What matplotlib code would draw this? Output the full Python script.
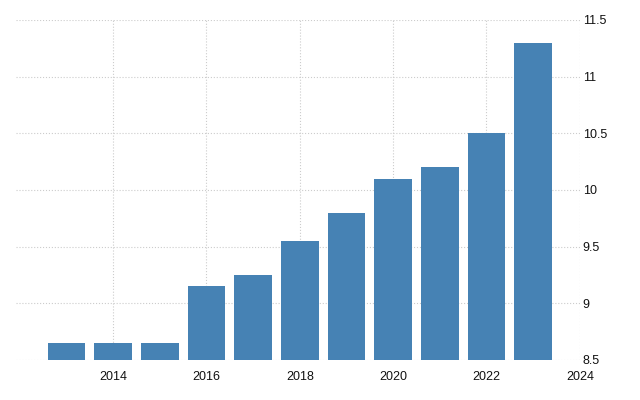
import matplotlib.pyplot as plt

years = [2013, 2014, 2015, 2016, 2017, 2018, 2019, 2020, 2021, 2022, 2023]
values = [8.65, 8.65, 8.65, 9.15, 9.25, 9.55, 9.8, 10.1, 10.2, 10.5, 11.3]
x_ticks = [2014, 2016, 2018, 2020, 2022, 2024]
y_ticks = [8.5, 9, 9.5, 10, 10.5, 11, 11.5]
y_labels = ['8.5', '9', '9.5', '10', '10.5', '11', '11.5']

plt.rcParams['font.family'] = ['Liberation Sans', 'DejaVu Sans']

fig = plt.figure(figsize=(6.4, 4.0), dpi=100)
ax = fig.add_axes([0.025, 0.1, 0.881, 0.85])
ax.bar(years, values, width=0.81, color='#4682b4', zorder=2)

ax.set_xlim(2011.92, 2024)
ax.set_ylim(8.5, 11.5)
ax.set_xticks(x_ticks)
ax.set_xticklabels([str(t) for t in x_ticks])
ax.set_yticks(y_ticks)
ax.set_yticklabels(y_labels)
ax.yaxis.tick_right()
ax.tick_params(axis='both', length=0, labelsize=9, colors='#111111')
ax.tick_params(axis='x', pad=8)
ax.tick_params(axis='y', pad=2)
ax.grid(True, color='#cccccc', linestyle=':', linewidth=0.8, zorder=0)
for s in ax.spines.values():
    s.set_visible(False)

fig.savefig('out.png', dpi=100)
